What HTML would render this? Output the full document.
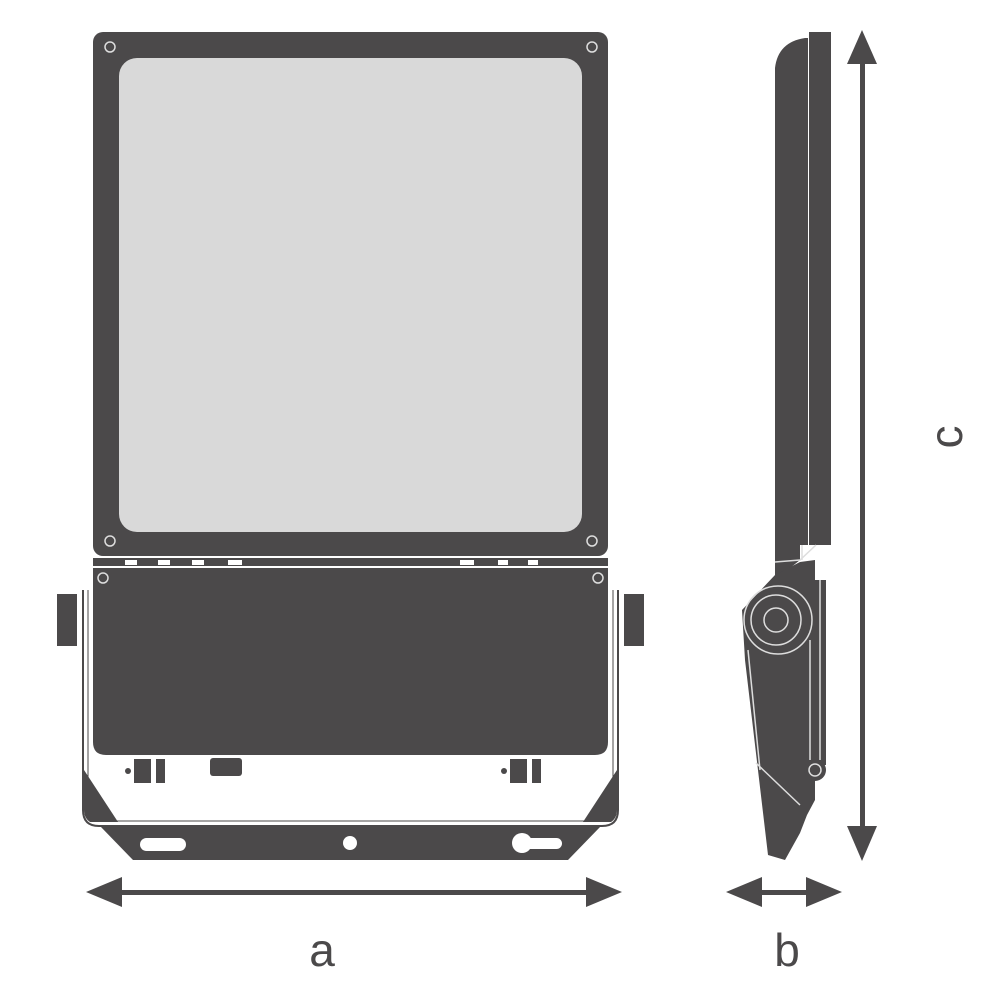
<!DOCTYPE html>
<html><head><style>html,body{margin:0;padding:0;background:#fff}svg{display:block}</style></head>
<body>
<svg width="1000" height="1000" viewBox="0 0 1000 1000" xmlns="http://www.w3.org/2000/svg">
<g fill="#4b494a">
<!-- front frame -->
<rect x="93" y="32" width="515" height="524" rx="10"/>
<rect x="119" y="58" width="463" height="474" rx="18" fill="#d9d9d9"/>
<g fill="none" stroke="#ddd" stroke-width="1.5">
<circle cx="110" cy="47" r="5"/><circle cx="592" cy="47" r="5"/>
<circle cx="110" cy="541" r="5"/><circle cx="592" cy="541" r="5"/>
</g>
<!-- strip -->
<rect x="93" y="558" width="515" height="8"/>
<g fill="#fff"><rect x="125" y="560" width="12" height="5"/><rect x="158" y="560" width="12" height="5"/><rect x="192" y="560" width="12" height="5"/><rect x="228" y="560" width="14" height="5"/><rect x="460" y="560" width="14" height="5"/><rect x="498" y="560" width="10" height="5"/><rect x="528" y="560" width="10" height="5"/></g>
<!-- lower box -->
<path d="M93 568 H608 V742 Q608 755 595 755 H106 Q93 755 93 742 Z"/>
<g fill="none" stroke="#ddd" stroke-width="1.5"><circle cx="103" cy="578" r="5"/><circle cx="598" cy="578" r="5"/></g>
<!-- bracket outline -->
<path d="M83 590 V810 Q83 826 99 826 H602 Q618 826 618 810 V590" fill="none" stroke="#4b494a" stroke-width="2"/>
<path d="M88 590 V808 Q88 821 101 821 H600 Q613 821 613 808 V590" fill="none" stroke="#4b494a" stroke-width="1"/>
<rect x="57" y="594" width="20" height="52"/><rect x="624" y="594" width="20" height="52"/>
<path d="M84 770 L118 822 L90 822 Q84 818 84 810 Z"/>
<path d="M617 770 L583 822 L611 822 Q617 818 617 810 Z"/>
<!-- bottom bar -->
<path d="M100 826 H601 L568 860 H133 Z"/>
<g fill="#fff"><rect x="140" y="838" width="46" height="13" rx="6.5"/><circle cx="350" cy="843" r="7"/><circle cx="522" cy="843" r="10"/><rect x="522" y="838" width="40" height="11" rx="5.5"/></g>
<!-- small parts under box -->
<circle cx="128" cy="771" r="3"/><rect x="134" y="759" width="17" height="24"/><rect x="156" y="759" width="9" height="24"/>
<rect x="210" y="758" width="32" height="18" rx="3"/>
<circle cx="504" cy="771" r="3"/><rect x="510" y="759" width="17" height="24"/><rect x="532" y="759" width="9" height="24"/>
<!-- side view -->
<path d="M775 68 Q778 42 805 38 H808 V545 H800 L800 560 L775 580 Z"/>
<rect x="809" y="32" width="22" height="513"/>
<path d="M775 575 L800 562 L815 560 L815 800 L807 815 L800 833 L785 860 L768 855 L745 660 L742 610 Z"/>
<rect x="808" y="580" width="18" height="185"/>
<circle cx="815" cy="770" r="11"/>
<g fill="none" stroke="#ddd" stroke-width="1.5">
<circle cx="778" cy="620" r="34"/><circle cx="776" cy="620" r="25"/><circle cx="776" cy="620" r="12"/>
<line x1="802" y1="545" x2="802" y2="560"/><path d="M775 562 L800 560 L816 545"/>
<line x1="810" y1="640" x2="810" y2="760"/><line x1="820" y1="580" x2="820" y2="760"/>
<circle cx="815" cy="770" r="6"/>
<line x1="756" y1="763" x2="800" y2="805"/>
<line x1="748" y1="650" x2="760" y2="770"/>
</g>
<!-- dimension arrows -->
<rect x="860" y="52" width="5" height="788"/>
<path d="M862 30 L877 64 L847 64 Z"/><path d="M862 861 L877 826 L847 826 Z"/>
<rect x="108" y="890" width="492" height="5"/>
<path d="M86 892 L122 877 L122 907 Z"/><path d="M622 892 L586 877 L586 907 Z"/>
<rect x="745" y="890" width="80" height="5"/>
<path d="M726 892 L762 877 L762 907 Z"/><path d="M842 892 L806 877 L806 907 Z"/>
</g>
<g font-family="Liberation Sans, sans-serif" font-size="46" fill="#4b494a" text-anchor="middle">
<text x="322" y="966">a</text>
<text x="787" y="966">b</text>
<text x="0" y="0" transform="translate(962,437) rotate(-90)">c</text>
</g>
</svg>
</body></html>
